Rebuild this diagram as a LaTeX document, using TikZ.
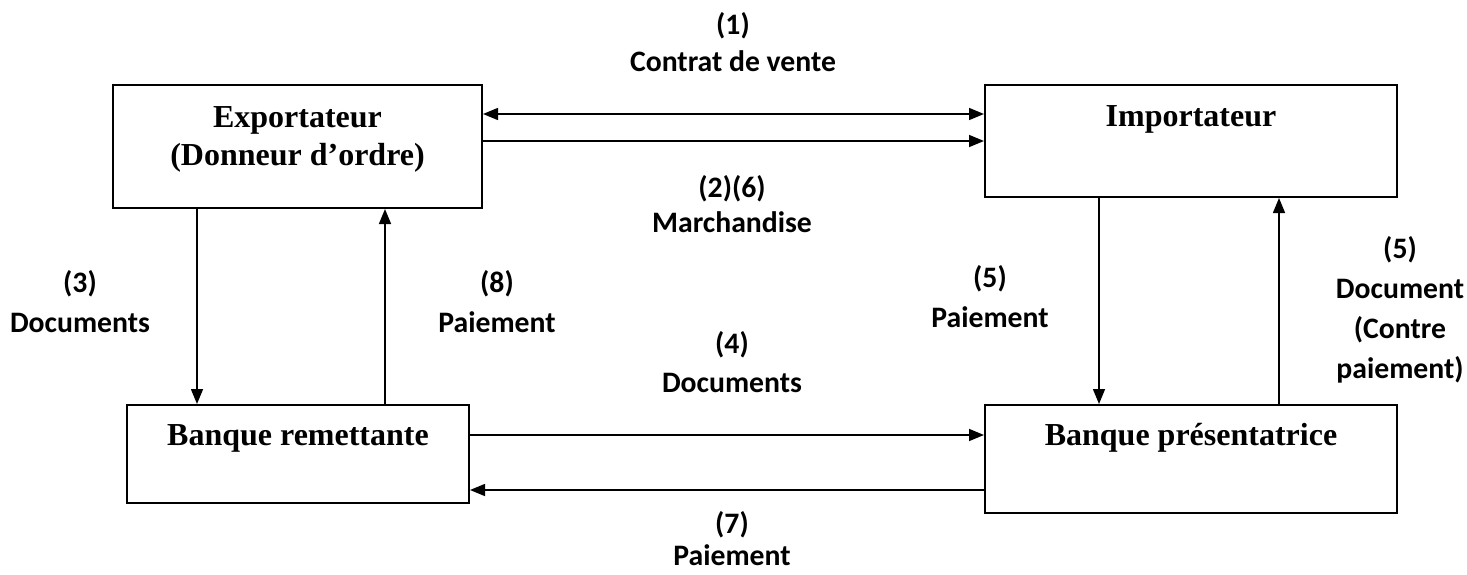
\documentclass[tikz,border=0pt]{standalone}
\usepackage{fontspec}
\setmainfont{Liberation Serif}
\newfontfamily\lblfont{Carlito}
\usetikzlibrary{arrows.meta,calc}
\begin{document}
\begin{tikzpicture}[x=1pt,y=-1pt,
  box/.style={draw, line width=2pt, minimum width=#1, inner sep=0pt},
  boxtext/.style={anchor=base, align=center, font=\fontsize{32}{38}\selectfont\bfseries},
  lbl/.style={anchor=base, align=center, font=\fontsize{29.7}{39}\selectfont\lblfont\bfseries},
  conn/.style={line width=1.5pt, -{Triangle[length=15pt,width=12pt]}},
  conn2/.style={line width=1.5pt, {Triangle[length=15pt,width=12pt]}-{Triangle[length=15pt,width=12pt]}}
]
\useasboundingbox (0,0) rectangle (1467,575);
% boxes
\node[box=369pt, minimum height=123pt] (exp) at (297.5,146.5) {};
\node[box=412pt, minimum height=112pt] (imp) at (1191,141) {};
\node[box=342pt, minimum height=98pt] (brem) at (298,454) {};
\node[box=412pt, minimum height=108pt] (bpres) at (1191,459) {};
% box texts
\node[boxtext] (texp) at (297.5,165) {Exportateur\\(Donneur d’ordre)};
\node[boxtext] (timp) at (1191,127) {Importateur};
\node[boxtext] (tbrem) at (298,445) {Banque remettante};
\node[boxtext] (tbpres) at (1191,445) {Banque présentatrice};
% connectors
\draw[conn2] ($(exp.north east)+(0,30)$) -- ($(imp.north west)+(0,30)$);
\draw[conn] ($(exp.north east)+(0,57)$) -- ($(imp.north west)+(0,57)$);
\coordinate (c3) at ($(exp.south west)+(85,0)$);
\draw[conn] (c3) -- (c3 |- brem.north);
\coordinate (c8) at ($(exp.south west)+(273,0)$);
\draw[conn] (c8 |- brem.north) -- (c8);
\coordinate (c5) at ($(imp.south west)+(115,0)$);
\draw[conn] (c5) -- (c5 |- bpres.north);
\coordinate (c5b) at ($(imp.south west)+(295,0)$);
\draw[conn] (c5b |- bpres.north) -- (c5b);
\draw[conn] ($(brem.north east)+(0,31)$) -- ($(bpres.north west)+(0,31)$);
\draw[conn] ($(bpres.north west)+(0,86)$) -- ($(brem.north east)+(0,86)$);
% labels
\node[lbl, font=\fontsize{29.7}{37}\selectfont\lblfont\bfseries] (l1) at (733,72) {(1)\\Contrat de vente};
\node[lbl, font=\fontsize{29.7}{35}\selectfont\lblfont\bfseries] (l2) at (732,232) {(2)(6)\\Marchandise};
\node[lbl] (l4) at (732,392) {(4)\\Documents};
\node[lbl, font=\fontsize{29.7}{32}\selectfont\lblfont\bfseries] (l7) at (732,565) {(7)\\Paiement};
\node[lbl, font=\fontsize{29.7}{40}\selectfont\lblfont\bfseries] (l3) at (80,332) {(3)\\Documents};
\node[lbl, font=\fontsize{29.7}{40}\selectfont\lblfont\bfseries] (l8) at (497,332) {(8)\\Paiement};
\node[lbl, font=\fontsize{29.7}{40}\selectfont\lblfont\bfseries] (l5) at (990,327) {(5)\\Paiement};
\node[lbl, font=\fontsize{29.7}{40}\selectfont\lblfont\bfseries] (l5b) at (1400,378) {(5)\\Document\\(Contre\\paiement)};
\end{tikzpicture}
\end{document}
